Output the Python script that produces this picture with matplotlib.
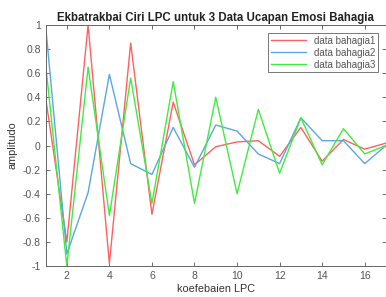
import matplotlib
matplotlib.use("Agg")
import matplotlib.pyplot as plt

# LPC coefficient index and three "bahagia" recordings
coef = list(range(1, 18))
bahagia1 = [0.40, -0.80, 1.00, -0.98, 0.85, -0.57, 0.36, -0.16, -0.01,
            0.03, 0.04, -0.09, 0.15, -0.13, 0.05, -0.03, 0.02]
bahagia2 = [1.00, -0.90, -0.39, 0.59, -0.15, -0.24, 0.15, -0.18, 0.17,
            0.12, -0.07, -0.15, 0.23, 0.04, 0.04, -0.15, 0.00]
bahagia3 = [0.68, -1.00, 0.65, -0.58, 0.56, -0.48, 0.53, -0.48, 0.40,
            -0.40, 0.30, -0.23, 0.23, -0.16, 0.14, -0.07, 0.00]
labels = ["data bahagia1", "data bahagia2", "data bahagia3"]
colors = ["#ff6060", "#5aa8e0", "#40ec40"]

plt.rcParams.update({"font.family": ["Liberation Sans", "DejaVu Sans"]})

fig = plt.figure(figsize=(3.86, 2.97), dpi=100)
ax = fig.add_axes([0.118, 0.104, 0.882, 0.812])

for ys, lab, c in zip([bahagia1, bahagia2, bahagia3], labels, colors):
    ax.plot(coef, ys, color=c, lw=1.0, label=lab)

ax.set_xlim(1, 17)
ax.set_ylim(-1, 1)
ax.set_xticks(range(2, 17, 2))
yt = [-1, -0.8, -0.6, -0.4, -0.2, 0, 0.2, 0.4, 0.6, 0.8, 1]
ax.set_yticks(yt)
ax.set_yticklabels([f"{v:g}" for v in yt])
ax.tick_params(direction="in", top=True, right=True, labelsize=7.5,
               colors="#555555", length=3, width=0.6)
for s in ax.spines.values():
    s.set_color("#666666")
    s.set_linewidth(0.7)

ax.set_title("Ekbatrakbai Ciri LPC untuk 3 Data Ucapan Emosi Bahagia",
             fontsize=8.3, fontweight="bold", color="#222222", pad=3)
ax.set_xlabel("koefebaien LPC", fontsize=7.8, color="#333333", labelpad=2)
ax.set_ylabel("amplitudo", fontsize=7.8, color="#333333", labelpad=4)

leg = ax.legend(loc="upper right", fontsize=7, frameon=True, fancybox=False,
                edgecolor="#555555", handlelength=3.6, borderpad=0.3,
                labelspacing=0.2, borderaxespad=0.8)
leg.get_frame().set_linewidth(0.7)
for t in leg.get_texts():
    t.set_color("#555555")

fig.savefig("out.png", dpi=100)
